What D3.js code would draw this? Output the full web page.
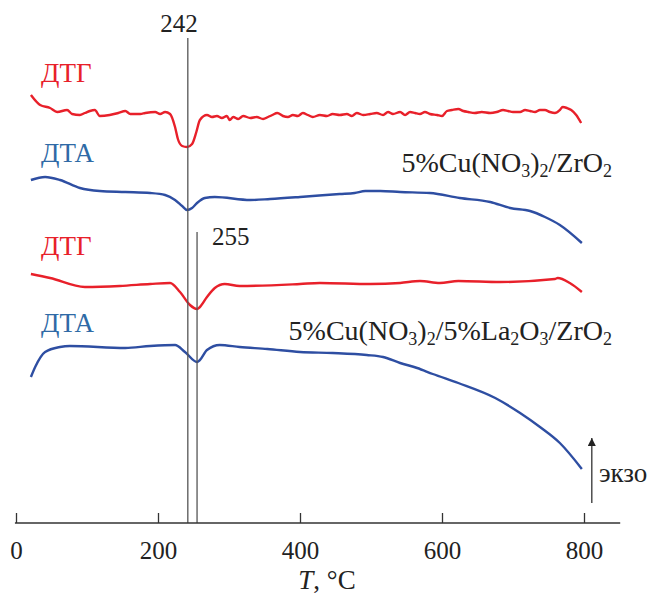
<!DOCTYPE html>
<html>
  <head>
    <meta charset="utf-8">
    <script src="https://cdn.jsdelivr.net/npm/d3@7"></script>
    <style>
      body { margin: 0; background: #fff; }
    </style>
  </head>
  <body>
    <svg id="chart" width="650" height="594"></svg>
    <script>
// temperature (°C) and signal (arbitrary units, offset per curve)
let dtg1 = [
  [21, 428], [34, 418], [48, 415], [58, 411], [72, 413], [79, 409], [90, 408], [97, 410],
  [104, 412], [111, 413], [118, 407], [132, 408], [144, 410], [154, 412], [161, 409],
  [175, 409], [182, 410], [196, 411], [203, 409], [210, 411], [217, 409], [224, 396],
  [228, 384], [234, 377], [241, 376], [248, 379], [254, 391], [259, 403], [269, 408],
  [276, 406], [283, 407], [290, 405], [297, 407], [301, 403], [306, 406], [313, 404],
  [320, 407], [330, 405], [339, 406], [348, 404], [355, 406], [361, 408], [368, 410],
  [376, 407], [383, 406], [390, 408], [397, 407], [404, 410], [411, 408], [418, 406],
  [428, 408], [438, 407], [446, 409], [456, 408], [466, 409], [473, 407], [480, 410],
  [489, 408], [499, 409], [508, 410], [517, 408], [524, 411], [531, 409], [541, 411],
  [548, 408], [555, 411], [562, 410], [569, 409], [576, 411], [583, 409], [593, 408],
  [600, 407], [607, 412], [614, 413], [623, 414], [630, 412], [637, 411], [646, 410],
  [656, 411], [668, 410], [677, 411], [686, 413], [693, 412], [700, 411], [710, 411],
  [717, 413], [724, 412], [731, 411], [738, 413], [745, 413], [752, 411], [759, 410],
  [766, 413], [770, 416], [776, 415], [782, 413], [789, 408], [796, 400]
];
let dta1 = [
  [21, 343], [41, 346], [62, 343], [90, 335], [118, 332], [154, 331], [189, 330], [210, 328],
  [224, 323], [234, 317], [241, 313], [248, 315], [255, 320], [266, 325], [280, 326],
  [330, 323], [358, 324], [400, 326], [456, 329], [477, 330], [492, 332], [513, 332],
  [541, 331], [583, 330], [625, 325], [668, 321], [696, 315], [724, 312], [745, 306],
  [766, 298], [797, 280]
];
let dtg2 = [
  [21, 249], [48, 245], [97, 236], [146, 237], [189, 239], [217, 240], [231, 231], [245, 218],
  [255, 214], [259, 216], [269, 226], [280, 235], [294, 239], [315, 237], [400, 239],
  [428, 240], [499, 239], [541, 240], [569, 242], [597, 240], [623, 242], [682, 241],
  [759, 244], [763, 245], [780, 240], [797, 231]
];
let dta2 = [
  [21, 146], [27, 156], [41, 171], [62, 176], [76, 177], [154, 175], [189, 177], [224, 178],
  [238, 171], [255, 161], [259, 163], [269, 173], [287, 178], [315, 176], [354, 174],
  [400, 171], [446, 170], [494, 168], [517, 166], [541, 160], [565, 155], [587, 149],
  [623, 140], [675, 125], [710, 110], [738, 96], [766, 80], [797, 54]
];
let xTicks = [0, 200, 400, 600, 800];
let peaks = [
  {t: 242, top: 485, label: '242'},
  {t: 255, top: 291, label: '255'}
];

let serif = '"Liberation Serif", "Times New Roman", Times, "DejaVu Serif", serif';

let svg = d3.select('#chart')
  .attr('font-family', serif);

let x = d3.scaleLinear().domain([0, 800]).range([16, 584]);
let y = d3.scaleLinear().domain([0, 500]).range([523, 23]);

let red = '#e8202a',
    blue = '#2e4ea2',
    labelBlue = '#2f6aa6';

// curves
let line = d3.line()
  .x(d => x(d[0]))
  .y(d => y(d[1]))
  .curve(d3.curveMonotoneX);

[[dtg1, red], [dta1, blue], [dtg2, red], [dta2, blue]].forEach(function(c) {
  svg.append('path')
    .datum(c[0])
    .attr('d', line)
    .attr('fill', 'none')
    .attr('stroke', c[1])
    .attr('stroke-width', 2.4)
    .attr('stroke-linejoin', 'round');
});

// peak markers
peaks.forEach(function(p) {
  svg.append('line')
    .attr('x1', x(p.t)).attr('x2', x(p.t))
    .attr('y1', y(p.top)).attr('y2', y(0))
    .attr('stroke', '#555')
    .attr('stroke-width', 1.3);
});
svg.append('text').attr('x', 179).attr('y', 32)
  .attr('text-anchor', 'middle').attr('font-size', 25).attr('fill', '#222')
  .text(peaks[0].label);
svg.append('text').attr('x', 212).attr('y', 245)
  .attr('font-size', 25).attr('fill', '#222')
  .text(peaks[1].label);

// x axis
let axis = d3.axisBottom(x)
  .tickValues(xTicks)
  .tickSizeInner(-10)
  .tickSizeOuter(0)
  .tickPadding(18);

let gx = svg.append('g')
  .attr('transform', 'translate(0,' + y(0) + ')')
  .call(axis)
  .attr('font-family', serif)
  .attr('font-size', 25);
gx.select('.domain').remove();
gx.selectAll('.tick line').attr('stroke', '#333').attr('stroke-width', 1.3);
gx.selectAll('.tick text').attr('fill', '#222');

svg.append('line')
  .attr('x1', x(-1.5)).attr('x2', x(851))
  .attr('y1', y(0)).attr('y2', y(0))
  .attr('stroke', '#333').attr('stroke-width', 1.5);

let xt = svg.append('text')
  .attr('x', 327).attr('y', 589)
  .attr('text-anchor', 'middle').attr('font-size', 27).attr('fill', '#222');
xt.append('tspan').attr('font-style', 'italic').text('T');
xt.append('tspan').text(', °C');

// curve labels
[['ДТГ', 82, red], ['ДТА', 162, labelBlue], ['ДТГ', 255, red], ['ДТА', 332, labelBlue]]
  .forEach(function(l) {
    svg.append('text')
      .attr('x', 41).attr('y', l[1])
      .attr('font-size', 27).attr('fill', l[2])
      .text(l[0]);
  });

// sample labels with subscripts
function sampleLabel(parts, yPos) {
  let t = svg.append('text')
    .attr('x', 612).attr('y', yPos)
    .attr('text-anchor', 'end').attr('font-size', 28).attr('fill', '#222');
  let shift = 0;
  parts.forEach(function(p) {
    let sub = p.length > 1;
    let target = sub ? 5 : 0;
    let ts = t.append('tspan')
      .attr('dy', target - shift)
      .text(p[0]);
    if (sub) ts.attr('font-size', 18);
    shift = target;
  });
}
sampleLabel([['5%Cu(NO'], ['3', 1], [')'], ['2', 1], ['/ZrO'], ['2', 1]], 172);
sampleLabel([['5%Cu(NO'], ['3', 1], [')'], ['2', 1], ['/5%La'], ['2', 1], ['O'], ['3', 1], ['/ZrO'], ['2', 1]], 340);

// exo arrow
svg.append('defs').append('marker')
  .attr('id', 'head')
  .attr('viewBox', '0 0 10 10')
  .attr('refX', 10).attr('refY', 5)
  .attr('markerWidth', 14).attr('markerHeight', 8)
  .attr('markerUnits', 'userSpaceOnUse')
  .attr('orient', 'auto')
  .append('path').attr('d', 'M0,0L10,5L0,10Z').attr('fill', '#222');

svg.append('line')
  .attr('x1', x(811)).attr('x2', x(811))
  .attr('y1', 503).attr('y2', 438)
  .attr('stroke', '#333').attr('stroke-width', 1.3)
  .attr('marker-end', 'url(#head)');
svg.append('text')
  .attr('x', 599).attr('y', 482)
  .attr('font-size', 27).attr('fill', '#222')
  .text('экзо');
    </script>
  </body>
</html>
